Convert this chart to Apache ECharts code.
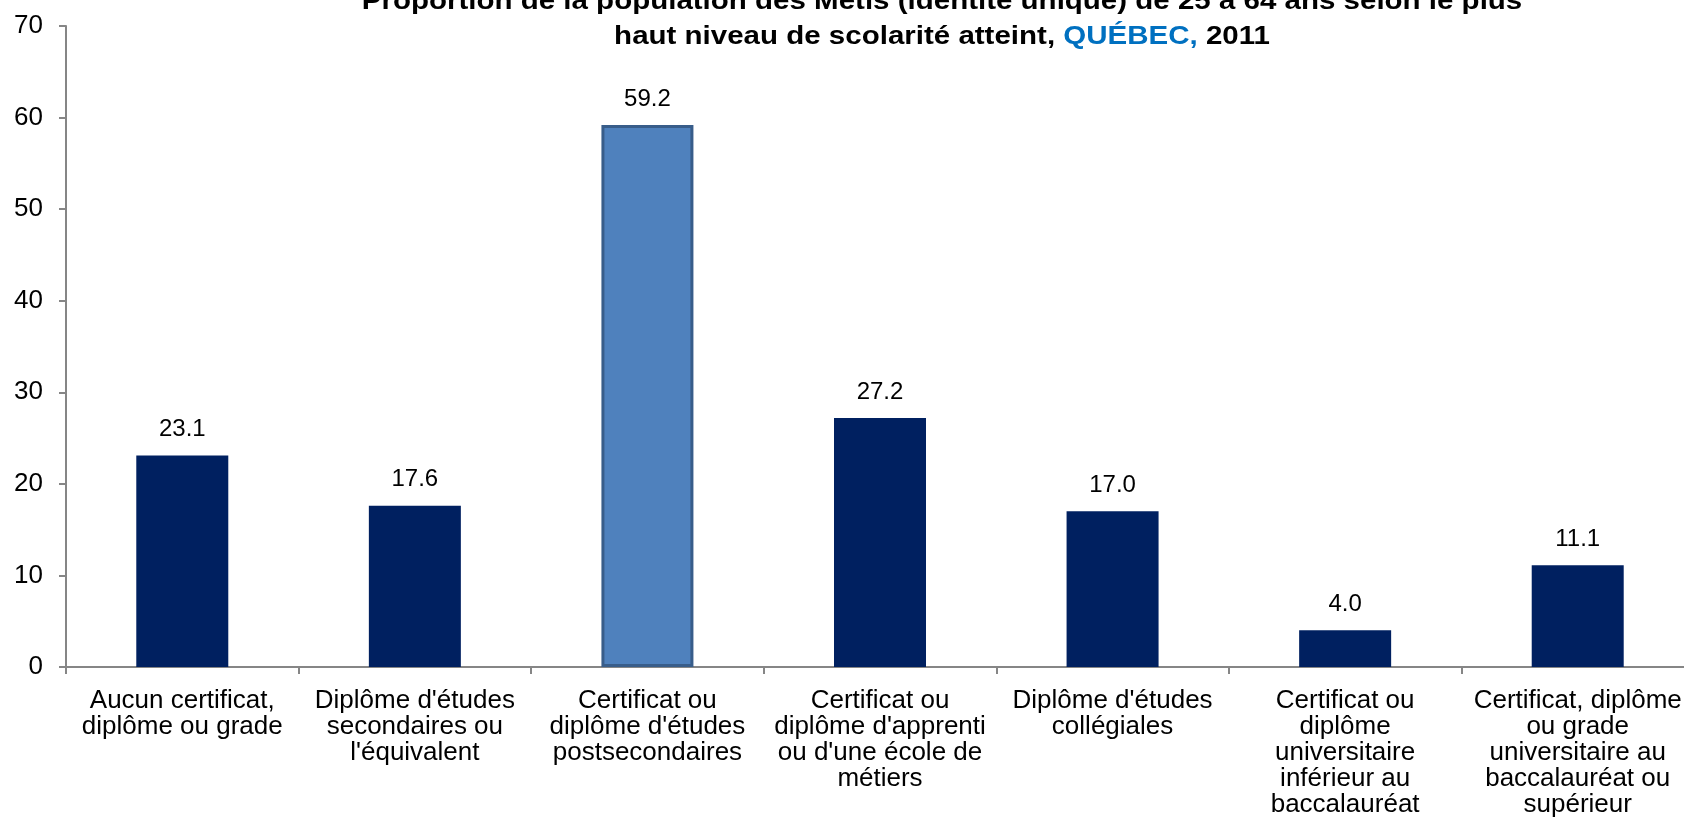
<!DOCTYPE html>
<html>
<head>
<meta charset="utf-8">
<script src="https://cdn.jsdelivr.net/npm/echarts@6/dist/echarts.min.js"></script>
<style>
  html, body { margin: 0; padding: 0; background: #fff; overflow: hidden; }
  /* le graphique déborde à droite comme dans l'original */
  #main { width: 1710px; height: 833px; }
</style>
</head>
<body>
<div id="main"></div>
<script>
const categories = [
  'Aucun certificat,\ndiplôme ou grade',
  "Diplôme d'études\nsecondaires ou\nl'équivalent",
  "Certificat ou\ndiplôme d'études\npostsecondaires",
  "Certificat ou\ndiplôme d'apprenti\nou d'une école de\nmétiers",
  "Diplôme d'études\ncollégiales",
  'Certificat ou\ndiplôme\nuniversitaire\ninférieur au\nbaccalauréat',
  'Certificat, diplôme\nou grade\nuniversitaire au\nbaccalauréat ou\nsupérieur'
]
const values = [23.1, 17.6, 59.2, 27.2, 17.0, 4.0, 11.1]
const highlightIndex = 2 // barre mise en évidence
const titleText = 'Proportion de la population des Métis (identité unique) de 25 à 64 ans selon le plus\nhaut niveau de scolarité atteint, {q|QUÉBEC,} 2011'

const font = '"Liberation Sans", Arial, sans-serif'
const myChart = echarts.init(document.getElementById('main'))

myChart.setOption({
  animation: false,
  backgroundColor: '#fff',
  // titre étiré horizontalement, coupé en haut
  graphic: [{
    type: 'text',
    x: 942,
    y: -15,
    scaleX: 1.18,
    style: {
      text: titleText,
      align: 'center',
      verticalAlign: 'top',
      font: 'bold 25px ' + font,
      fill: '#000',
      lineHeight: 35,
      rich: {
        q: { font: 'bold 25px ' + font, fill: '#0070C0', lineHeight: 35 }
      }
    }
  }],
  grid: { left: 66, top: 26, width: 1628, height: 641 },
  xAxis: {
    type: 'category',
    data: categories,
    axisLine: { lineStyle: { color: '#868686', width: 2 } },
    axisTick: { show: true, length: 7, lineStyle: { color: '#868686', width: 2 } },
    axisLabel: {
      fontFamily: font, fontSize: 26, color: '#000', lineHeight: 26,
      margin: 21, interval: 0
    }
  },
  yAxis: {
    type: 'value',
    min: 0, max: 70, interval: 10,
    splitLine: { show: false },
    axisLine: { show: true, lineStyle: { color: '#868686', width: 2 } },
    axisTick: { show: true, length: 7, lineStyle: { color: '#868686', width: 2 } },
    axisLabel: { fontFamily: font, fontSize: 26, color: '#000', margin: 23 }
  },
  series: [{
    type: 'bar',
    barWidth: 92,
    data: values.map((v, i) => i === highlightIndex
      ? { value: v, itemStyle: { color: '#4F81BD', borderColor: '#385D8A', borderWidth: 3 } }
      : v),
    itemStyle: { color: '#002060' },
    label: {
      show: true, position: 'top', distance: 14,
      fontFamily: font, fontSize: 24, color: '#000',
      formatter: p => p.value.toFixed(1)
    }
  }]
})
</script>
</body>
</html>
